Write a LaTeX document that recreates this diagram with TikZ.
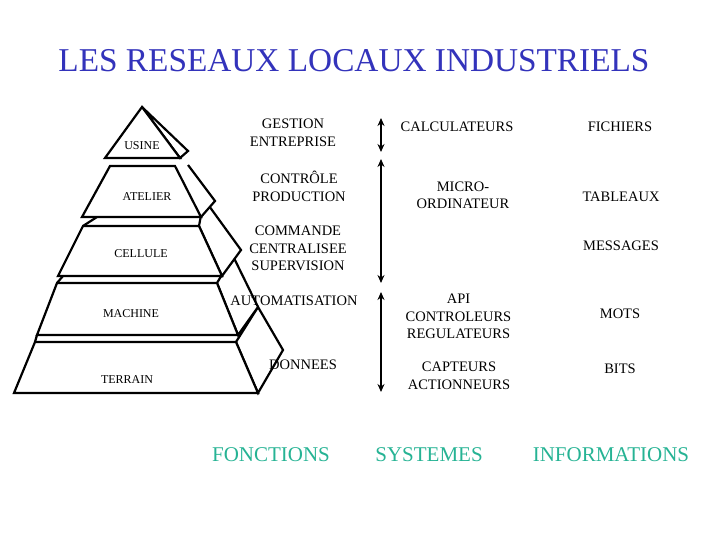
\documentclass[tikz,border=0pt]{standalone}
\usepackage{fontspec}
\setmainfont{Liberation Serif}
\usetikzlibrary{arrows.meta}
\definecolor{bleutitre}{RGB}{51,51,187}
\definecolor{vertbas}{RGB}{38,179,148}

\begin{document}
\begin{tikzpicture}[x=1pt,y=-1pt,
    bord/.style={line width=2.2pt,line join=miter},
    niveau/.style={font=\fontsize{12}{14}\selectfont},
    texte/.style={font=\fontsize{14.5}{17.5}\selectfont,align=center,inner sep=0pt},
    rubrique/.style={font=\fontsize{21}{24}\selectfont,text=vertbas,inner sep=0pt},
    fleche/.style={line width=2.2pt,{Stealth[length=8pt,width=7pt]}-{Stealth[length=8pt,width=7pt]}}]
    \useasboundingbox (0,0) rectangle (720,540);

    % Titre
    \node[font=\fontsize{33.3}{36}\selectfont,text=bleutitre,inner sep=0pt] (titre) at (354,61) {LES RESEAUX LOCAUX INDUSTRIELS};

    % Pyramide : on dessine du bas vers le haut
    % TERRAIN
    \coordinate (T1) at (14,393);
    \coordinate (T2) at (35,342);
    \coordinate (T3) at (236,342);
    \coordinate (T4) at (258,393);
    \coordinate (T5) at (258,307);
    \coordinate (T6) at (283,350);
    \filldraw[bord,fill=white] (T3) -- (T5) -- (T6) -- (T4) -- cycle;
    \filldraw[bord,fill=white] (T1) -- (T2) -- (T3) -- (T4) -- cycle;
    \draw[bord] (T2) -- (37,335);

    % MACHINE
    \coordinate (M1) at (37,335);
    \coordinate (M2) at (57,283);
    \coordinate (M3) at (217,283);
    \coordinate (M4) at (238,335);
    \coordinate (M5) at (233,256);
    \coordinate (M6) at (258,307);
    \filldraw[bord,fill=white] (M3) -- (M5) -- (M6) -- (M4) -- cycle;
    \filldraw[bord,fill=white] (M1) -- (M2) -- (M3) -- (M4) -- cycle;
    \draw[bord] (M2) -- (63,276);

    % CELLULE
    \coordinate (C1) at (58,276);
    \coordinate (C2) at (83,226);
    \coordinate (C3) at (199,226);
    \coordinate (C4) at (222,276);
    \coordinate (C5) at (204,199);
    \coordinate (C6) at (241,250);
    \filldraw[bord,fill=white] (C3) -- (C5) -- (C6) -- (C4) -- cycle;
    \filldraw[bord,fill=white] (C1) -- (C2) -- (C3) -- (C4) -- cycle;
    \draw[bord] (C2) -- (97,217);

    % ATELIER
    \coordinate (E1) at (82,217);
    \coordinate (E2) at (110,166);
    \coordinate (E3) at (175,166);
    \coordinate (E4) at (201,217);
    \coordinate (E5) at (188,165);
    \coordinate (E6) at (215,201);
    \fill[white] (E3) -- (E5) -- (E6) -- (E4) -- cycle;
    \draw[bord] (E5) -- (E6) -- (E4);
    \filldraw[bord,fill=white] (E1) -- (E2) -- (E3) -- (E4) -- cycle;

    % USINE
    \coordinate (U1) at (105,158);
    \coordinate (U2) at (142,107);
    \coordinate (U3) at (180,158);
    \coordinate (U4) at (188,151);
    \filldraw[bord,fill=white] (U2) -- (U4) -- (U3) -- cycle;
    \filldraw[bord,fill=white] (U1) -- (U2) -- (U3) -- cycle;

    % Noms des niveaux
    \node[niveau] (usine) at (142,146) {USINE};
    \node[niveau] (atelier) at (147,197) {ATELIER};
    \node[niveau] (cellule) at (141,254) {CELLULE};
    \node[niveau] (machine) at (131,314) {MACHINE};
    \node[niveau] (terrain) at (127,380) {TERRAIN};

    % Fonctions
    \node[texte] (gestion) at (293,133) {GESTION\\ENTREPRISE};
    \node[texte] (controle) at (299,186.5) {CONTRÔLE\\PRODUCTION};
    \node[texte] (commande) at (298,248.7) {COMMANDE\\CENTRALISEE\\SUPERVISION};
    \node[texte] (automat) at (294,300.7) {AUTOMATISATION};
    \node[texte] (donnees) at (303,365) {DONNEES};

    % Flèches
    \coordinate (F1) at (381,118);
    \coordinate (F2) at (381,152);
    \coordinate (F3) at (381,159);
    \coordinate (F4) at (381,283);
    \coordinate (F5) at (381,292);
    \coordinate (F6) at (381,392);
    \draw[fleche] (F1) -- (F2);
    \draw[fleche] (F3) -- (F4);
    \draw[fleche] (F5) -- (F6);

    % Systèmes
    \node[texte] (calcul) at (457,126.7) {CALCULATEURS};
    \node[texte] (micro) at (463,195.5) {MICRO-\\ORDINATEUR};
    \node[texte] (api) at (458.5,316.5) {API\\CONTROLEURS\\REGULATEURS};
    \node[texte] (capteurs) at (459,376) {CAPTEURS\\ACTIONNEURS};

    % Informations
    \node[texte] (fichiers) at (620,127) {FICHIERS};
    \node[texte] (tableaux) at (621,197) {TABLEAUX};
    \node[texte] (messages) at (621,246) {MESSAGES};
    \node[texte] (mots) at (620,314) {MOTS};
    \node[texte] (bits) at (620,369) {BITS};

    % Rubriques
    \node[rubrique] (fonctions) at (271,455) {FONCTIONS};
    \node[rubrique] (systemes) at (429,455) {SYSTEMES};
    \node[rubrique] (infos) at (611,455) {INFORMATIONS};
\end{tikzpicture}
\end{document}
